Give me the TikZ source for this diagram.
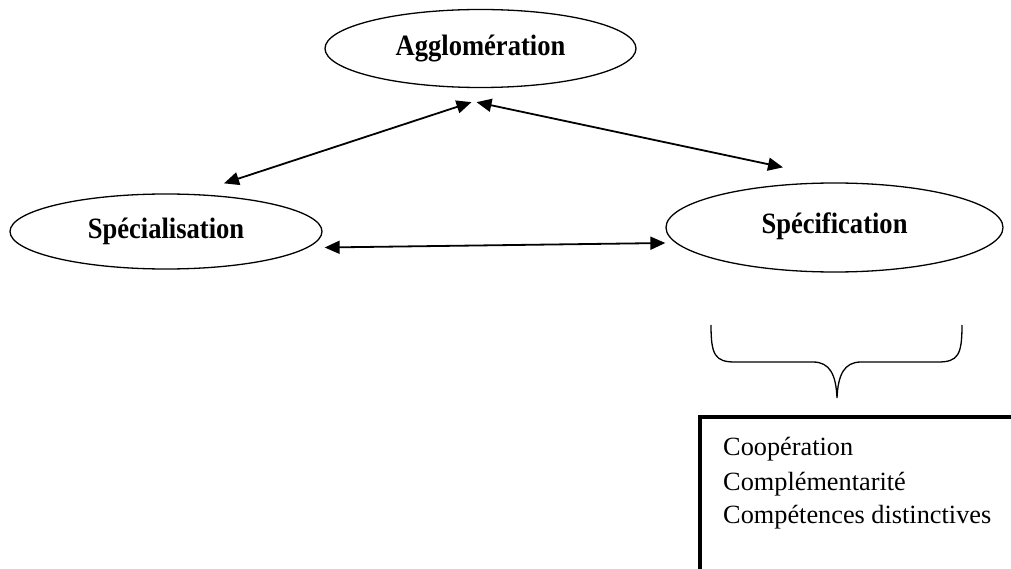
\documentclass[tikz,border=0pt]{standalone}
\usepackage{fontspec}
\setmainfont{Liberation Serif}
\newfontfamily\labfont[FakeStretch=0.9]{Liberation Serif}
\usetikzlibrary{shapes.geometric,arrows.meta}
\tikzset{
  bubble/.style={draw, ellipse, line width=1.3pt, inner sep=0pt,
    font=\labfont\bfseries\fontsize{29.5}{34}\selectfont},
  link/.style={line width=1.8pt, {Triangle[length=15pt,width=13pt]}-{Triangle[length=15pt,width=13pt]}},
  item/.style={anchor=base west, inner sep=0pt, font=\fontsize{26.3}{34}\selectfont}
}
\begin{document}
\begin{tikzpicture}[x=1pt,y=-1pt]
\useasboundingbox (0,0) rectangle (1011,569);
\clip (0,0) rectangle (1011,569);
\node[bubble, minimum width=311pt, minimum height=78pt] (agg) at (480.5,48.5) {Agglomération};
\node[bubble, minimum width=312pt, minimum height=75pt] (spe) at (166,231.5) {Spécialisation};
\node[bubble, minimum width=337pt, minimum height=89pt, text depth=9pt] (spf) at (834.5,227.5) {Spécification};
\draw[link] ([shift={(58,-10)}]spe.north) -- ([shift={(-9,14)}]agg.south);
\draw[link] ([shift={(-4,14)}]agg.south) -- ([shift={(-51.5,-15)}]spf.north);
\draw[link] ([shift={(2,16)}]spe.east) -- ([shift={(0,15.5)}]spf.west);
% brace
\draw[line width=1.3pt] (711,325) .. controls (711,355) and (715,362) .. (735,362) -- (813,362)
  .. controls (830,362) and (836,375) .. (837,398)
  .. controls (838,375) and (844,362) .. (861,362) -- (938,362)
  .. controls (958,362) and (962,355) .. (962,325);
% box
\draw[line width=4pt] (1030,417) -| (700,590);
\node[item] (l1) at (723,455) {Coopération};
\node[item] (l2) at (723,490) {Complémentarité};
\node[item] (l3) at (723,523) {Compétences distinctives};
\end{tikzpicture}
\end{document}
